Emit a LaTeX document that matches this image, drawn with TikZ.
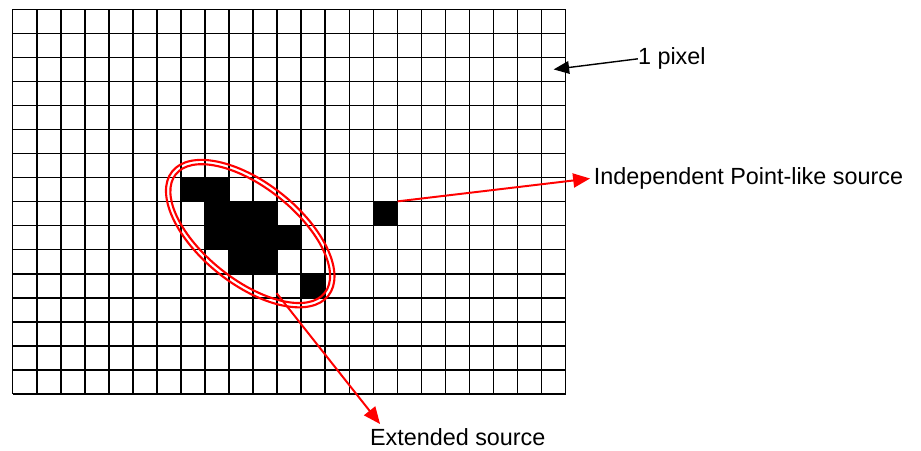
\documentclass[tikz,border=0pt]{standalone}
\usepackage{fontspec}
\setmainfont{Liberation Sans}
\usetikzlibrary{arrows.meta}
\definecolor{rot}{HTML}{FF0000}
\tikzset{
  gitter/.style={black,line width=1.1pt},
  pix/.style={fill=black,draw=none,minimum size=0.6cm,inner sep=0pt},
  rpfeil/.style={-{Triangle[length=12pt,width=10pt]},rot,line width=1.4pt},
  spfeil/.style={-{Triangle[length=11pt,width=9pt]},black,line width=1pt},
  ring/.style={rot,line width=1.5pt},
  txt/.style={font=\fontsize{16.6}{20}\selectfont,inner sep=0pt},
}
\begin{document}
\begin{tikzpicture}[x=0.6cm,y=0.6cm]
  \useasboundingbox (-0.528,-2.36) rectangle (37.78,16.387);
  % extended source
  \foreach \x/\y in {7/8,8/8,8/7,9/7,10/7,8/6,9/6,10/6,11/6,9/5,10/5,12/4}
    \fill (\x,\y) rectangle ++(1,1);
  \node[pix] (pt) at (15.5,7.5) {};
  \draw[gitter,step=1] (0,0) grid (23,16);
  \draw[ring,rotate around={-38.5:(9.88,6.67)}] (9.88,6.67) ellipse (4.15 and 2.11);
  \draw[ring,rotate around={-38.5:(9.88,6.67)}] (9.88,6.67) ellipse (3.96 and 1.92);
  \coordinate (onepix) at (22.5,13.5);
  \coordinate (es) at (10.98,4.19);
  \coordinate (extip) at (15.28,-1.25);
  % labels
  \node[txt,anchor=west] (pixlbl) at (26.0,13.94) {1 pixel};
  \node[txt,anchor=west] (indep) at (24.16,8.98) {Independent Point-like source};
  \node[txt,anchor=west] (ext) at (14.85,-1.8) {Extended source};
  \draw[spfeil] (pixlbl.west) -- (onepix);
  \draw[rpfeil,shorten >=2.5pt] (pt.north east) -- (indep.west);
  \draw[rpfeil] (es) -- (extip);
\end{tikzpicture}
\end{document}
